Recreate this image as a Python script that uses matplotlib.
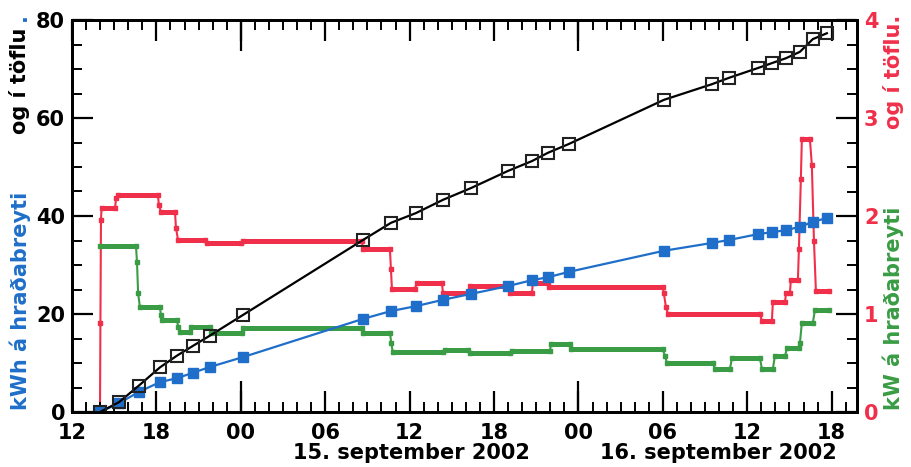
import numpy as np
import matplotlib.pyplot as plt
from matplotlib.ticker import MultipleLocator, FuncFormatter

# time in hours from 14. september 2002 00:00
t_kwh = [13.99, 15.34, 16.76, 18.25, 19.46, 20.60, 21.81, 24.15, 32.68, 34.67,
         36.45, 38.37, 40.36, 42.99, 44.69, 45.83, 47.32, 54.07, 57.49, 58.70,
         60.76, 61.75, 62.75, 63.74, 64.66, 65.66]
kwh_tafla = [0, 2.0, 5.4, 9.1, 11.5, 13.5, 15.6, 19.8, 35.1, 38.6,
             40.6, 43.3, 45.7, 49.2, 51.2, 52.9, 54.7, 63.7, 66.9, 68.2,
             70.2, 71.2, 72.2, 73.5, 76.1, 77.3]
kwh_hrb = [0, 1.8, 4.1, 6.1, 6.9, 8.0, 9.2, 11.2, 19.0, 20.6,
           21.6, 22.9, 24.1, 25.7, 26.9, 27.5, 28.6, 32.9, 34.5, 35.1,
           36.3, 36.7, 37.1, 37.8, 38.8, 39.6]

t_kw_tafla = [13.99, 14.02, 14.06, 14.10, 15.06, 15.13, 15.27, 18.11, 18.18, 18.33,
              19.32, 19.39, 19.53, 21.45, 21.60, 24.00, 24.15, 32.61, 32.68, 34.60,
              34.67, 34.74, 36.38, 36.52, 38.30, 38.37, 40.14, 40.29, 42.99, 43.13,
              44.69, 44.76, 45.83, 45.90, 54.00, 54.07, 54.22, 54.36, 60.90, 61.04,
              61.75, 61.82, 62.68, 62.75, 63.03, 63.10, 63.60, 63.67, 63.81, 63.88,
              64.45, 64.59, 64.74, 64.88, 65.80]
kw_tafla = [0.0, 0.91, 1.96, 2.08, 2.08, 2.18, 2.21, 2.21, 2.11, 2.04,
            2.04, 1.88, 1.76, 1.76, 1.72, 1.72, 1.74, 1.74, 1.66, 1.66,
            1.46, 1.26, 1.26, 1.32, 1.32, 1.21, 1.21, 1.29, 1.29, 1.21,
            1.21, 1.32, 1.32, 1.28, 1.28, 1.21, 1.07, 1.00, 1.00, 0.93,
            0.93, 1.12, 1.12, 1.21, 1.21, 1.35, 1.35, 1.66, 2.38, 2.79,
            2.79, 2.52, 1.75, 1.23, 1.23]

t_kw_hrb = [14.00, 16.55, 16.62, 16.70, 16.83, 18.25, 18.32, 18.40, 19.46, 19.55,
            19.68, 20.39, 20.46, 21.81, 21.88, 24.08, 24.15, 32.61, 32.68, 34.60,
            34.70, 34.80, 38.37, 38.50, 40.14, 40.29, 43.13, 43.25, 45.97, 46.05,
            47.39, 47.50, 54.00, 54.15, 54.29, 57.56, 57.70, 58.77, 58.91, 60.90,
            61.04, 61.82, 61.96, 62.68, 62.82, 63.67, 63.74, 63.88, 64.66, 64.81,
            65.80]
kw_hrb = [1.69, 1.69, 1.53, 1.21, 1.07, 1.07, 0.99, 0.94, 0.94, 0.87,
          0.82, 0.82, 0.87, 0.87, 0.81, 0.81, 0.86, 0.86, 0.81, 0.81,
          0.70, 0.61, 0.61, 0.63, 0.63, 0.60, 0.60, 0.62, 0.62, 0.69,
          0.69, 0.64, 0.64, 0.57, 0.50, 0.50, 0.44, 0.44, 0.55, 0.55,
          0.44, 0.44, 0.57, 0.57, 0.65, 0.65, 0.70, 0.91, 0.91, 1.04,
          1.04]

blue = '#1f6ec9'
red = '#f0304a'
green = '#3a9c45'
fnt = 'DejaVu Sans'


def draw_kw(ax, t, v, color):
    t = np.asarray(t)
    v = np.asarray(v)
    ax.plot(t, v, color=color, lw=1.5, marker='s', ms=3.2, mec=color, mfc=color)
    # flat parts look heavier in the original
    xs, ys = [], []
    for i in np.where(np.diff(t) > 0.25)[0]:
        xs += [t[i], t[i + 1], np.nan]
        ys += [v[i], v[i + 1], np.nan]
    ax.plot(xs, ys, color=color, lw=3.6, solid_capstyle='butt')


fig = plt.figure(figsize=(9.11, 4.67), dpi=100)
ax = fig.add_axes([72 / 911, 1 - 412 / 467, (857 - 72) / 911, (412 - 20) / 467])
ax2 = ax.twinx()

draw_kw(ax2, t_kw_tafla, kw_tafla, red)
draw_kw(ax2, t_kw_hrb, kw_hrb, green)
ax2.set_zorder(1)
ax.set_zorder(2)
ax.patch.set_visible(False)

ax.plot(t_kwh, kwh_hrb, color=blue, lw=1.6, marker='s', ms=7, mfc=blue, mec=blue)
ax.plot(t_kwh, kwh_tafla, color='black', lw=1.6, marker='s', ms=8,
        mfc='none', mec='#222222', mew=1.5)

ax.set_xlim(12, 67.8)
ax.set_ylim(0, 80)
ax2.set_ylim(0, 4)

ax.xaxis.set_major_locator(MultipleLocator(6))
ax.xaxis.set_minor_locator(MultipleLocator(1))
ax.xaxis.set_major_formatter(FuncFormatter(lambda h, p: f"{int(round(h)) % 24:02d}"))
ax.yaxis.set_major_locator(MultipleLocator(20))
ax.yaxis.set_minor_locator(MultipleLocator(5))
ax2.yaxis.set_major_locator(MultipleLocator(1))
ax2.yaxis.set_minor_locator(MultipleLocator(0.25))

ax.tick_params(which='major', direction='in', length=15, width=1.6, top=True,
               right=False, labelsize=15, pad=5)
ax.tick_params(axis='x', which='major', pad=8)
ax.tick_params(which='minor', direction='in', length=7, width=1.4, top=True, right=False)
ax2.tick_params(which='major', direction='in', length=15, width=1.6, labelsize=15,
                labelcolor=red, pad=5)
ax2.tick_params(which='minor', direction='in', length=7, width=1.4)
for lab in ax.get_xticklabels() + ax.get_yticklabels() + ax2.get_yticklabels():
    lab.set_fontweight('bold')
    lab.set_family(fnt)

for a in (ax, ax2):
    for s in a.spines.values():
        s.set_linewidth(2)

# longer ticks at midnight
for side in ('bottom', 'top'):
    sec = ax.secondary_xaxis(side)
    sec.set_xticks([24, 48])
    sec.tick_params(direction='in', length=22, width=1.6,
                    labelbottom=False, labeltop=False)
    for s in sec.spines.values():
        s.set_visible(False)

# dates under the axis
fig.text(411 / 911, 1 - 453 / 467, '15. september 2002', ha='center', va='center',
         fontsize=15, fontweight='bold', family=fnt)
fig.text(718 / 911, 1 - 453 / 467, '16. september 2002', ha='center', va='center',
         fontsize=15, fontweight='bold', family=fnt)

# two-coloured axis titles
lab = dict(rotation=90, ha='center', fontsize=15, fontweight='bold', family=fnt)
fig.text(20 / 911, 1 - 410 / 467, 'kWh á hraðabreyti', color=blue, va='bottom', **lab)
fig.text(20 / 911, 1 - 28 / 467, 'og í töflu', color='black', va='top', **lab)
fig.text(20 / 911, 1 - 13 / 467, '.', color=blue, va='top', **lab)
fig.text(893 / 911, 1 - 410 / 467, 'kW á hraðabreyti', color=green, va='bottom', **lab)
fig.text(893 / 911, 1 - 15 / 467, 'og í töflu.', color=red, va='top', **lab)

fig.savefig('out.png', dpi=100)
